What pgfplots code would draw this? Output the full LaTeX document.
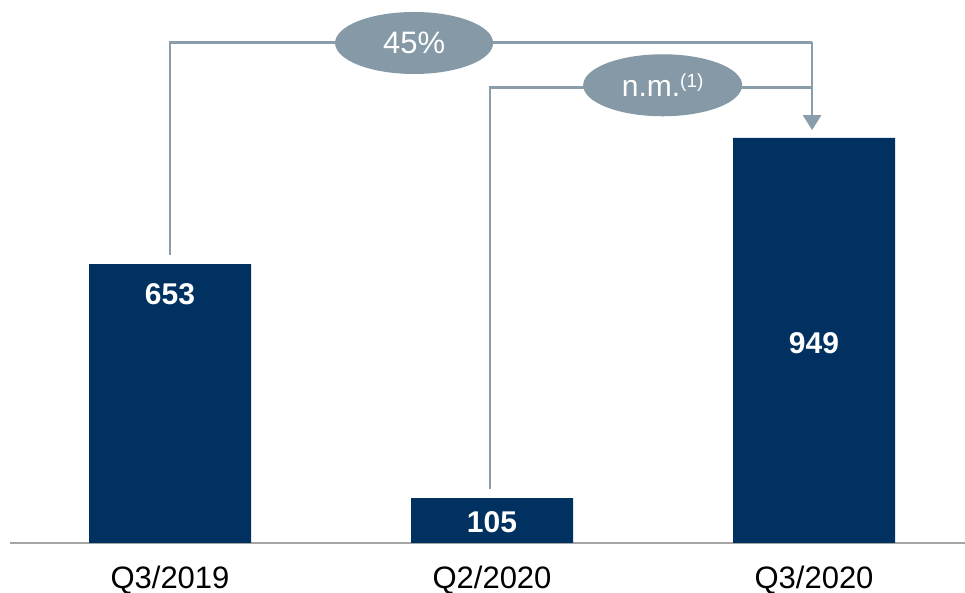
\documentclass[border=0pt]{standalone}
\usepackage{fontspec}
\setmainfont{Liberation Sans}
\usepackage{pgfplots}
\pgfplotsset{compat=1.18}
\usetikzlibrary{shapes.geometric,arrows.meta}
\definecolor{navy}{RGB}{0,49,96}
\definecolor{conn}{RGB}{138,157,170}
\definecolor{ell}{RGB}{133,153,166}
\definecolor{baseln}{RGB}{165,165,165}
\begin{document}
\begin{tikzpicture}
\begin{axis}[name=ax, scale only axis, width=955bp, height=593bp,
  xmin=-0.4969, xmax=2.4689, ymin=-117.1, ymax=1271.7,
  axis x line=middle, axis y line=none,
  axis line style={baseln, line width=1.5bp, -},
  xtick={0,1,2}, xticklabels={Q3/2019,Q2/2020,Q3/2020},
  xtick style={draw=none}, ytick=\empty,
  xticklabel style={anchor=base, yshift=-43bp, font=\fontsize{31bp}{36bp}\selectfont},
  clip=false]
\addplot[ybar, bar width=162bp, fill=navy, draw=none] coordinates {(0,653) (1,105) (2,949)};
\node[text=white, font=\bfseries\fontsize{30bp}{36bp}\selectfont] at (axis cs:0,583) {653};
\node[text=white, font=\bfseries\fontsize{30bp}{36bp}\selectfont] at (axis cs:1,49) {105};
\node[text=white, font=\bfseries\fontsize{30bp}{36bp}\selectfont] at (axis cs:2,468) {949};
\draw[conn, line width=2.8bp] (axis cs:0,675) -- (axis cs:0,1173) -- (axis cs:1.994,1173);
\draw[conn, line width=2.8bp, -{Triangle[width=18bp,length=15bp]}] (axis cs:1.994,1174) -- (axis cs:1.994,967);
\draw[conn, line width=2.8bp] (axis cs:0.994,126) -- (axis cs:0.994,1066) -- (axis cs:1.994,1066);
\node[ellipse, fill=ell, minimum width=158bp, minimum height=62bp, inner sep=0pt, text=white,
  font=\fontsize{31bp}{36bp}\selectfont] at (axis cs:0.758,1171) {45\%};
\node[ellipse, fill=ell, minimum width=159bp, minimum height=62bp, inner sep=0pt, text=white,
  font=\fontsize{30bp}{36bp}\selectfont] at (axis cs:1.53,1072) {n.m.\raisebox{9bp}{\fontsize{19bp}{20bp}\selectfont(1)}};
\end{axis}
\pgfresetboundingbox
\path[use as bounding box] (ax.south west) ++(-10bp,0) rectangle (ax.north east);
\end{tikzpicture}
\end{document}
